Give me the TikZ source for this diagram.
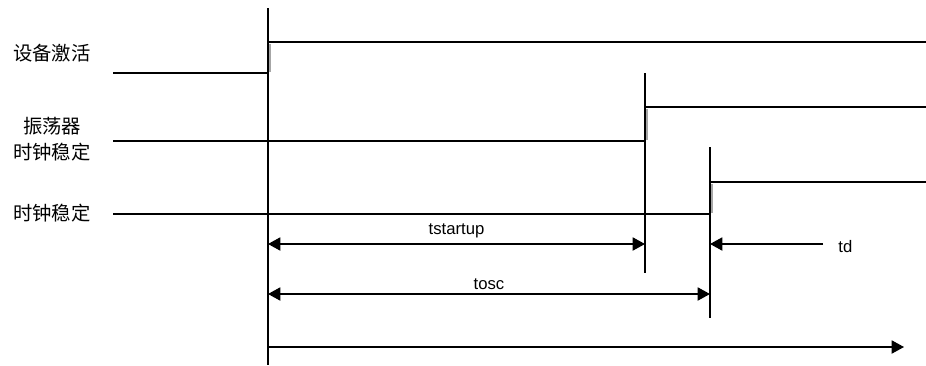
\documentclass[tikz,border=0pt]{standalone}
\usepackage{fontspec}
\setmainfont{Liberation Sans}
\newfontfamily\cjk{Noto Sans CJK SC}
\usetikzlibrary{arrows.meta,positioning}

\tikzset{
    sig/.style={line width=0.9pt},
    edge shade/.style={line width=0.8pt, black!35},
    mark line/.style={line width=0.7pt},
    dim/.style={line width=0.7pt, {Triangle[length=7pt,width=7.5pt]}-{Triangle[length=7pt,width=7.5pt]}},
    dimr/.style={line width=0.7pt, -{Triangle[length=7pt,width=7.5pt]}},
    lbl/.style={font=\cjk\fontsize{11}{14.7}\selectfont, align=center, inner sep=0pt},
    tlbl/.style={font=\fontsize{9.5}{11}\selectfont, inner sep=0pt},
}

\begin{document}
\begin{tikzpicture}[x=0.02cm, y=-0.02cm]
    \useasboundingbox (0,0) rectangle (926,365);

    % time reference points
    \coordinate (t0top) at (268,8);
    \coordinate (t0bot) at (268,365);
    \coordinate (t1top) at (645,73);
    \coordinate (t1bot) at (645,273);
    \coordinate (t2top) at (710,147);
    \coordinate (t2bot) at (710,318);

    % signal labels
    \node[lbl] (act) at (52,53) {设备激活};
    \node[lbl] (osc) at (52,139) {振荡器\\时钟稳定};
    \node[lbl] (clk) at (52,213) {时钟稳定};

    % waveforms
    \draw[edge shade] (270,72) -- (270,44);
    \draw[edge shade] (647,140) -- (647,109);
    \draw[edge shade] (712,213) -- (712,184);
    \draw[sig] (113,73) -- (268,73) -- (268,42) -- (926,42);
    \draw[sig] (113,141) -- (645,141) -- (645,107) -- (926,107);
    \draw[sig] (113,214) -- (710,214) -- (710,182) -- (926,182);

    % marker lines
    \draw[mark line] (t0top) -- (t0bot);
    \draw[mark line] (t1top) -- (t1bot);
    \draw[mark line] (t2top) -- (t2bot);

    % timing intervals
    \coordinate (a1) at (268,244);
    \coordinate (b1) at (645,244);
    \draw[dim] (a1) -- node[tlbl, above=3pt] (tstartup) {tstartup} (b1);
    \coordinate (tdend) at (823,244);
    \coordinate (c1) at (710,244);
    \draw[dimr] (tdend) -- (c1);
    \node[tlbl, anchor=west] (td) at (838,247) {td};
    \coordinate (a2) at (268,294);
    \coordinate (b2) at (710,294);
    \draw[dim] (a2) -- node[tlbl, above=2pt] (tosc) {tosc} (b2);

    % time axis
    \coordinate (ax0) at (268,347);
    \coordinate (ax1) at (904,347);
    \draw[dimr] (ax0) -- (ax1);
\end{tikzpicture}
\end{document}
